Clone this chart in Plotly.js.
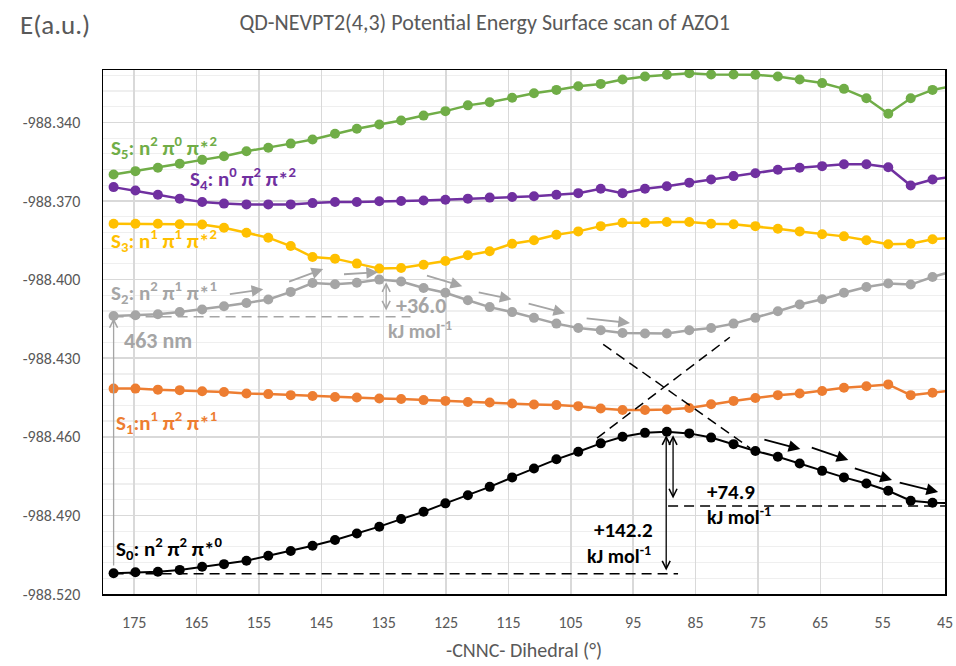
<!DOCTYPE html>
<html>
<head>
<meta charset="utf-8">
<script src="https://cdn.plot.ly/plotly-3.0.1.min.js"></script>
<style>
html,body{margin:0;padding:0;background:#fff;}
#chart{width:956px;height:666px;}
</style>
</head>
<body>
<div id="chart"></div>
<script>
// ---- data ----
const dihedral = [178.3, 174.8, 171.2, 167.7, 164.1, 160.6, 157.0, 153.5, 149.9, 146.4,
  142.8, 139.3, 135.7, 132.2, 128.6, 125.1, 121.5, 118.0, 114.4, 110.9,
  107.3, 103.8, 100.2, 96.7, 93.1, 89.6, 86.0, 82.5, 78.9, 75.4,
  71.8, 68.3, 64.7, 61.2, 57.6, 54.1, 50.5, 47.0, 43.4];

const S0 = [-988.5121, -988.5117, -988.5115, -988.5108, -988.5096, -988.5086, -988.5073, -988.5054, -988.5036, -988.5016,
  -988.4994, -988.4969, -988.4943, -988.4914, -988.4886, -988.4854, -988.4823, -988.4791, -988.4755, -988.4721,
  -988.4686, -988.4657, -988.4625, -988.4600, -988.4585, -988.4581, -988.4587, -988.4603, -988.4628, -988.4654,
  -988.4676, -988.4702, -988.4730, -988.4755, -988.4778, -988.4806, -988.4844, -988.4852, -988.4853];

const S1 = [-988.4416, -988.4416, -988.4420, -988.4422, -988.4426, -988.4429, -988.4435, -988.4437, -988.4441, -988.4444,
  -988.4448, -988.4450, -988.4454, -988.4456, -988.4460, -988.4463, -988.4467, -988.4469, -988.4473, -988.4477,
  -988.4479, -988.4483, -988.4492, -988.4498, -988.4498, -988.4496, -988.4490, -988.4476, -988.4463, -988.4452,
  -988.4441, -988.4435, -988.4425, -988.4413, -988.4407, -988.4400, -988.4441, -988.4432, -988.4422];

const S2 = [-988.4139, -988.4136, -988.4132, -988.4124, -988.4114, -988.4102, -988.4089, -988.4076, -988.4047, -988.4013,
  -988.4018, -988.4012, -988.4000, -988.4007, -988.4032, -988.4050, -988.4079, -988.4105, -988.4124, -988.4146,
  -988.4168, -988.4185, -988.4193, -988.4204, -988.4206, -988.4206, -988.4193, -988.4185, -988.4168, -988.4146,
  -988.4121, -988.4095, -988.4075, -988.4050, -988.4028, -988.4015, -988.4019, -988.3990, -988.3965];

const S3 = [-988.3787, -988.3787, -988.3787, -988.3789, -988.3790, -988.3802, -988.3821, -988.3840, -988.3872, -988.3914,
  -988.3920, -988.3939, -988.3958, -988.3956, -988.3943, -988.3929, -988.3907, -988.3892, -988.3863, -988.3850,
  -988.3829, -988.3816, -988.3796, -988.3783, -988.3783, -988.3780, -988.3780, -988.3787, -988.3789, -988.3796,
  -988.3806, -988.3816, -988.3827, -988.3835, -988.3850, -988.3865, -988.3863, -988.3846, -988.3839];

const S4 = [-988.3647, -988.3660, -988.3676, -988.3691, -988.3704, -988.3710, -988.3713, -988.3713, -988.3713, -988.3708,
  -988.3704, -988.3704, -988.3701, -988.3700, -988.3698, -988.3695, -988.3691, -988.3687, -988.3685, -988.3682,
  -988.3676, -988.3670, -988.3653, -988.3670, -988.3653, -988.3644, -988.3630, -988.3618, -988.3605, -988.3594,
  -988.3581, -988.3573, -988.3567, -988.3560, -988.3560, -988.3571, -988.3641, -988.3618, -988.3606];

const S5 = [-988.3599, -988.3586, -988.3573, -988.3558, -988.3543, -988.3529, -988.3510, -988.3497, -988.3481, -988.3465,
  -988.3443, -988.3424, -988.3408, -988.3393, -988.3374, -988.3357, -988.3335, -988.3323, -988.3306, -988.3289,
  -988.3276, -988.3262, -988.3253, -988.3236, -988.3225, -988.3218, -988.3212, -988.3217, -988.3217, -988.3218,
  -988.3225, -988.3236, -988.3250, -988.3272, -988.3308, -988.3367, -988.3308, -988.3276, -988.3259];

const yTickVals = [-988.52, -988.49, -988.46, -988.43, -988.40, -988.37, -988.34];
const yTickText = ['-988.520', '-988.490', '-988.460', '-988.430', '-988.400', '-988.370', '-988.340'];

const stateNames = ['S0', 'S1', 'S2', 'S3', 'S4', 'S5'];
const stateValues = [S0, S1, S2, S3, S4, S5];
const stateColors = ['#000000', '#ED7D31', '#A5A5A5', '#FFC000', '#7030A0', '#70AD47'];

const FONT = "Carlito, 'Liberation Sans Narrow', 'Open Sans', sans-serif";
const GREY_TXT = '#595959';

const traces = stateNames.map((n, i) => ({
  type: 'scatter', mode: 'lines+markers', name: n,
  x: dihedral, y: stateValues[i],
  line: {color: stateColors[i], width: i === 0 ? 2 : 2.5},
  marker: {color: stateColors[i], size: 10, symbol: 'circle'},
  hoverinfo: 'x+y+name'
}));

function arrow(x0, y0, x1, y1, color, opts) {
  return Object.assign({
    x: x1, y: y1, ax: x0, ay: y0, xref: 'x', yref: 'y', axref: 'x', ayref: 'y',
    text: '', showarrow: true, arrowcolor: color, arrowwidth: 1.8, arrowhead: 2, arrowsize: 1.3,
    standoff: 0, startstandoff: 0
  }, opts || {});
}
function label(x, y, text, color, size, bold) {
  return {x: x, y: y, xref: 'x', yref: 'y', text: bold ? '<b>' + text + '</b>' : text,
    showarrow: false, xanchor: 'left', yanchor: 'middle',
    font: {family: FONT, size: size, color: color}};
}

const GRAY = '#A5A5A5';
const annotations = [
  label(179.1, -988.3495, 'S<sub>5</sub>: n<sup>2</sup> π<sup>0</sup> π*<sup>2</sup>', '#70AD47', 21, true),
  label(166.3, -988.3613, 'S<sub>4</sub>: n<sup>0</sup> π<sup>2</sup> π*<sup>2</sup>', '#7030A0', 21, true),
  label(179.1, -988.3850, 'S<sub>3</sub>: n<sup>1</sup> π<sup>1</sup> π*<sup>2</sup>', '#FFC000', 21, true),
  label(179.1, -988.4048, 'S<sub>2</sub>: n<sup>2</sup> π<sup>1</sup> π*<sup>1</sup>', GRAY, 21, true),
  label(176.9, -988.4231, '463 nm', GRAY, 22, true),
  label(133.3, -988.4098, '+36.0', GRAY, 22, true),
  label(134.7, -988.4193, 'kJ mol<sup>-1</sup>', GRAY, 20, true),
  label(178.3, -988.4544, 'S<sub>1</sub>:n<sup>1</sup> π<sup>2</sup> π*<sup>1</sup>', '#ED7D31', 21, true),
  label(178.3, -988.5025, 'S<sub>0</sub>: n<sup>2</sup> π<sup>2</sup> π*<sup>0</sup>', '#000000', 21, true),
  label(83.5, -988.4811, '+74.9', '#000000', 21, true),
  label(83.5, -988.4903, 'kJ mol<sup>-1</sup>', '#000000', 20, true),
  label(101.6, -988.4956, '+142.2', '#000000', 21, true),
  label(102.7, -988.5051, 'kJ mol<sup>-1</sup>', '#000000', 20, true),
  arrow(178.3, -988.5097, 178.3, -988.4147, GRAY, {arrowwidth: 1.3, arrowhead: 5, arrowsize: 1.2}),
  arrow(134.6, -988.4124, 134.6, -988.4010, GRAY, {arrowwidth: 1.3, arrowhead: 5, arrowsize: 1.2, arrowside: 'end+start'}),
  arrow(159.9, -988.4056, 154.3, -988.4037, GRAY),
  arrow(150.4, -988.4010, 144.7, -988.3960, GRAY),
  arrow(141.6, -988.3980, 135.9, -988.3972, GRAY),
  arrow(128.3, -988.3983, 122.4, -988.4025, GRAY),
  arrow(120.0, -988.4048, 114.5, -988.4075, GRAY),
  arrow(112.0, -988.4090, 105.9, -988.4128, GRAY),
  arrow(102.7, -988.4147, 95.5, -988.4166, GRAY),
  arrow(74.2, -988.4609, 68.2, -988.4647, '#000000'),
  arrow(66.6, -988.4639, 60.5, -988.4689, '#000000'),
  arrow(59.7, -988.4719, 53.5, -988.4765, '#000000'),
  arrow(52.5, -988.4773, 46.1, -988.4811, '#000000'),
  arrow(88.6, -988.4841, 88.6, -988.4594, '#000000', {arrowwidth: 1.3, arrowhead: 5, arrowsize: 1.2, arrowside: 'end+start'}),
  arrow(89.7, -988.5116, 89.7, -988.4594, '#000000', {arrowwidth: 1.3, arrowhead: 5, arrowsize: 1.2, arrowside: 'end+start'}),
  {x: -0.1004, y: 1.086, xref: 'paper', yref: 'paper', text: 'E(a.u.)', showarrow: false,
   xanchor: 'left', yanchor: 'middle', font: {family: FONT, size: 27, color: GREY_TXT}}
];

const dashBlack = {color: '#000000', width: 1.5, dash: '10px,6px'};
const shapes = [
  {type: 'line', xref: 'x', yref: 'y', x0: 178.3, y0: -988.4142, x1: 130.7, y1: -988.4142,
   line: {color: GRAY, width: 1.5, dash: '10px,6px'}},
  {type: 'line', xref: 'x', yref: 'y', x0: 99.8, y0: -988.4247, x1: 76.25, y1: -988.4643, line: dashBlack},
  {type: 'line', xref: 'x', yref: 'y', x0: 100.8, y0: -988.4605, x1: 79.5, y1: -988.4220, line: dashBlack},
  {type: 'line', xref: 'x', yref: 'y', x0: 178.3, y0: -988.5123, x1: 87.8, y1: -988.5123, line: dashBlack},
  {type: 'line', xref: 'x', yref: 'y', x0: 89.4, y0: -988.4864, x1: 45, y1: -988.4864, line: dashBlack}
];

const layout = {
  width: 956, height: 666,
  margin: {l: 103, r: 11, t: 70, b: 72},
  paper_bgcolor: '#ffffff', plot_bgcolor: '#ffffff',
  showlegend: false,
  font: {family: FONT, color: GREY_TXT},
  title: {text: 'QD-NEVPT2(4,3) Potential Energy Surface scan of AZO1',
    font: {family: FONT, size: 22, color: GREY_TXT},
    x: 0.507, xref: 'container', xanchor: 'center', y: 0.967, yref: 'container', yanchor: 'middle'},
  xaxis: {
    range: [180, 45], tick0: 45, dtick: 10, ticks: '',
    showgrid: true, gridcolor: '#D9D9D9', gridwidth: 1.5,
    showline: true, mirror: true, linecolor: '#000000', linewidth: 1.5,
    zeroline: false, ticklabelstandoff: 13,
    tickfont: {family: FONT, size: 16, color: GREY_TXT},
    title: {text: '-CNNC- Dihedral (°)', font: {family: FONT, size: 20, color: GREY_TXT}, standoff: 12}
  },
  yaxis: {
    range: [-988.52, -988.32], tickvals: yTickVals, ticktext: yTickText, ticks: '',
    showgrid: true, gridcolor: '#D9D9D9', gridwidth: 1.5,
    minor: {tick0: -988.52, dtick: 0.006, showgrid: true, gridcolor: '#EFEFEF', gridwidth: 1.2},
    showline: true, mirror: true, linecolor: '#000000', linewidth: 1.5,
    zeroline: false, ticklabelstandoff: 18,
    tickfont: {family: FONT, size: 16, color: GREY_TXT}
  },
  shapes: shapes,
  annotations: annotations
};

Plotly.newPlot('chart', traces, layout, {displayModeBar: false, staticPlot: true});
</script>
</body>
</html>
